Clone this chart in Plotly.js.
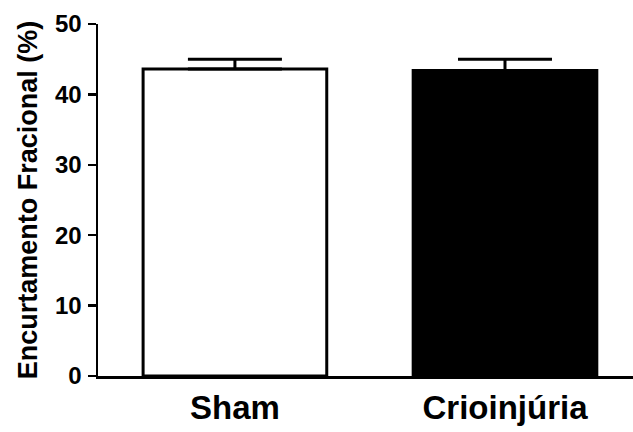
<!DOCTYPE html>
<html>
<head>
<meta charset="utf-8">
<script src="https://cdn.plot.ly/plotly-3.0.1.min.js"></script>
<style>html,body{margin:0;padding:0;background:#fff;}#chart{width:633px;height:432px;}</style>
</head>
<body>
<div id="chart"></div>
<script>
const categories = ["Sham", "Crioinjúria"];
const means = [43.6, 43.4];
const sems = [1.4, 1.6];
const fillColors = ["#ffffff", "#000000"];
const yTicks = [0, 10, 20, 30, 40, 50];

const trace = {
  type: "bar",
  x: [0, 1],
  y: means,
  width: 0.68,
  marker: {color: fillColors, line: {color: "#000000", width: 3}},
  error_y: {type: "data", symmetric: false, array: sems, arrayminus: [0, 0],
            color: "#000000", thickness: 3, width: 47},
  hoverinfo: "none"
};

const layout = {
  width: 633, height: 432,
  margin: {l: 98, r: 0, t: 24, b: 56},
  paper_bgcolor: "#ffffff", plot_bgcolor: "#ffffff",
  showlegend: false,
  font: {family: "Liberation Sans, Arial, sans-serif", color: "#000000"},
  xaxis: {
    range: [-0.507, 1.474],
    tickvals: [0, 1], ticktext: categories,
    showgrid: false, zeroline: false, showline: true, linecolor: "#000000", linewidth: 2.5,
    ticks: "", ticklabelstandoff: 1,
    tickfont: {size: 33, family: "Liberation Sans, Arial, sans-serif", weight: "bold", color: "#000000"}
  },
  yaxis: {
    range: [0, 50],
    tickvals: yTicks,
    showgrid: false, zeroline: false, showline: true, linecolor: "#000000", linewidth: 2.5,
    ticks: "outside", ticklen: 8, tickwidth: 2.5, tickcolor: "#000000",
    ticklabelstandoff: 1,
    tickfont: {size: 24, family: "Liberation Sans, Arial, sans-serif", weight: "bold", color: "#000000"},
    title: {text: "Encurtamento Fracional (%)", standoff: 10,
            font: {size: 27, family: "Liberation Sans, Arial, sans-serif", weight: "bold", color: "#000000"}}
  }
};

Plotly.newPlot("chart", [trace], layout, {displayModeBar: false, staticPlot: true});
</script>
</body>
</html>
